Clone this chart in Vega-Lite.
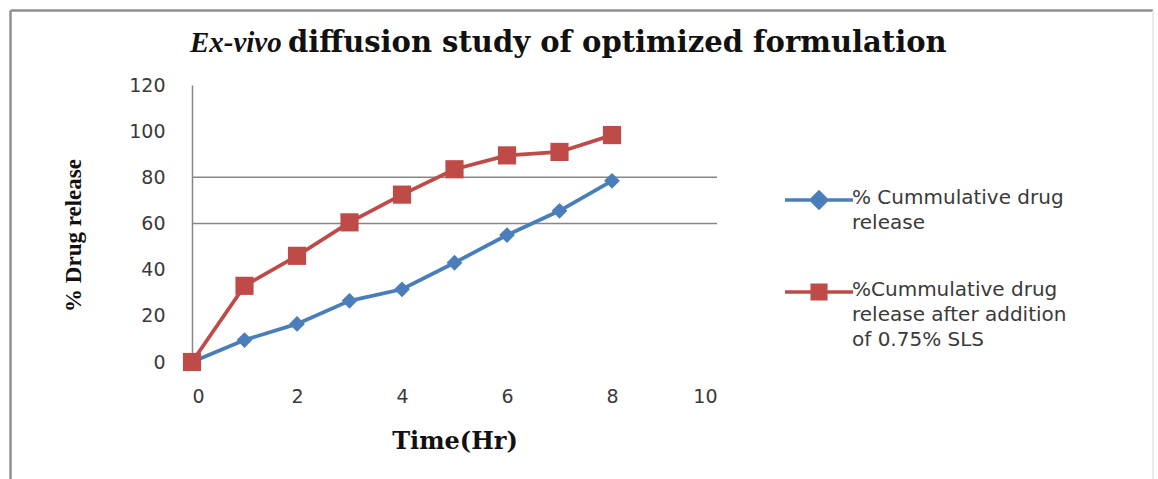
{
  "$schema": "https://vega.github.io/schema/vega-lite/v6.json",
  "width": 525,
  "height": 277,
  "autosize": "none",
  "padding": {"left": 192, "top": 85, "right": 441, "bottom": 117},
  "background": "white",
  "config": {"view": {"stroke": null}},
  "datasets": {
    "release": [
      {"time": 0, "pct": 0, "series": "% Cummulative drug release"},
      {"time": 1, "pct": 9.5, "series": "% Cummulative drug release"},
      {"time": 2, "pct": 16.5, "series": "% Cummulative drug release"},
      {"time": 3, "pct": 26.5, "series": "% Cummulative drug release"},
      {"time": 4, "pct": 31.5, "series": "% Cummulative drug release"},
      {"time": 5, "pct": 43, "series": "% Cummulative drug release"},
      {"time": 6, "pct": 55, "series": "% Cummulative drug release"},
      {"time": 7, "pct": 65.5, "series": "% Cummulative drug release"},
      {"time": 8, "pct": 78.5, "series": "% Cummulative drug release"},
      {"time": 0, "pct": 0, "series": "%Cummulative drug release after addition of 0.75% SLS"},
      {"time": 1, "pct": 33, "series": "%Cummulative drug release after addition of 0.75% SLS"},
      {"time": 2, "pct": 46, "series": "%Cummulative drug release after addition of 0.75% SLS"},
      {"time": 3, "pct": 60.5, "series": "%Cummulative drug release after addition of 0.75% SLS"},
      {"time": 4, "pct": 72.5, "series": "%Cummulative drug release after addition of 0.75% SLS"},
      {"time": 5, "pct": 83.5, "series": "%Cummulative drug release after addition of 0.75% SLS"},
      {"time": 6, "pct": 89.5, "series": "%Cummulative drug release after addition of 0.75% SLS"},
      {"time": 7, "pct": 91, "series": "%Cummulative drug release after addition of 0.75% SLS"},
      {"time": 8, "pct": 98.3, "series": "%Cummulative drug release after addition of 0.75% SLS"}
    ],
    "gridlines": [{"g": 60}, {"g": 80}],
    "single": [{}]
  },
  "layer": [
    {
      "data": {"name": "gridlines"},
      "mark": {"type": "rule", "color": "#878787", "strokeWidth": 1.5},
      "encoding": {
        "y": {"field": "g", "type": "quantitative", "scale": {"domain": [0, 120], "nice": false}},
        "x": {"datum": 0, "type": "quantitative", "scale": {"domain": [0, 10], "nice": false}},
        "x2": {"datum": 10}
      }
    },
    {
      "data": {"name": "release"},
      "mark": {"type": "line", "strokeWidth": 3.75},
      "encoding": {
        "x": {
          "field": "time", "type": "quantitative",
          "scale": {"domain": [0, 10], "nice": false},
          "axis": {
            "values": [0, 2, 4, 6, 8, 10], "grid": false, "domain": false, "ticks": false,
            "labelFont": "DejaVu Sans", "labelFontSize": 19, "labelColor": "#3a3a3a", "labelPadding": 25,
            "title": "Time(Hr)", "titleFont": "DejaVu Serif", "titleFontWeight": "bold", "titleFontSize": 24,
            "titleColor": "#111111", "titleBaseline": "alphabetic", "titleY": 86
          }
        },
        "y": {
          "field": "pct", "type": "quantitative",
          "scale": {"domain": [0, 120], "nice": false},
          "axis": {
            "values": [0, 20, 40, 60, 80, 100, 120], "grid": false, "ticks": false,
            "domainColor": "#868686", "domainWidth": 1.5,
            "labelFont": "DejaVu Sans", "labelFontSize": 19, "labelColor": "#3a3a3a", "labelPadding": 27,
            "title": "% Drug release", "titleFont": "Liberation Serif", "titleFontWeight": "bold", "titleFontSize": 23,
            "titleColor": "#111111", "titleAngle": -90, "titleBaseline": "alphabetic", "titleAlign": "center",
            "titleX": -112, "titleY": 150
          }
        },
        "color": {
          "field": "series", "type": "nominal",
          "scale": {
            "domain": ["% Cummulative drug release", "%Cummulative drug release after addition of 0.75% SLS"],
            "range": ["#4a7ebb", "#be4b48"]
          },
          "legend": {
            "title": null, "orient": "none", "legendX": 591, "legendY": 79, "padding": 0,
            "symbolSize": 4624, "labelOffset": -3, "labelLimit": 400, "rowPadding": 23,
            "labelFont": "DejaVu Sans", "labelFontSize": 20, "labelColor": "#3a3a3a", "labelBaseline": "top",
            "labelExpr": "datum.label == '% Cummulative drug release' ? ['% Cummulative drug', 'release'] : ['%Cummulative drug', 'release after addition', 'of 0.75% SLS']",
            "encode": {
              "symbols": {
                "update": {
                  "shape": {"signal": "datum.value == '% Cummulative drug release' ? 'M-1,0H1M0,-0.23L0.23,0L0,0.23L-0.23,0Z' : 'M-1,0H1M-0.2,-0.2H0.2V0.2H-0.2Z'"},
                  "fill": {"signal": "datum.value == '% Cummulative drug release' ? '#4a7ebb' : '#be4b48'"},
                  "stroke": {"signal": "datum.value == '% Cummulative drug release' ? '#4a7ebb' : '#be4b48'"},
                  "strokeWidth": {"value": 3.5}
                }
              },
              "labels": {"update": {"lineHeight": {"value": 25}, "dy": {"value": -12}}}
            }
          }
        }
      }
    },
    {
      "data": {"name": "release"},
      "transform": [{"filter": "datum.series == '% Cummulative drug release'"}],
      "mark": {"type": "point", "shape": "diamond", "filled": true, "opacity": 1, "size": 250, "color": "#4a7ebb"},
      "encoding": {
        "x": {"field": "time", "type": "quantitative"},
        "y": {"field": "pct", "type": "quantitative"}
      }
    },
    {
      "data": {"name": "release"},
      "transform": [{"filter": "datum.series != '% Cummulative drug release'"}],
      "mark": {"type": "point", "shape": "square", "filled": true, "opacity": 1, "size": 330, "color": "#be4b48"},
      "encoding": {
        "x": {"field": "time", "type": "quantitative"},
        "y": {"field": "pct", "type": "quantitative"}
      }
    },
    {
      "data": {"name": "single"},
      "mark": {"type": "text", "text": "Ex-vivo", "font": "Liberation Serif", "fontSize": 29, "fontWeight": "bold", "fontStyle": "italic", "align": "left", "baseline": "alphabetic", "color": "#111111"},
      "encoding": {"x": {"datum": -0.04}, "y": {"datum": 134.3}}
    },
    {
      "data": {"name": "single"},
      "mark": {"type": "text", "text": "diffusion study of optimized formulation", "font": "DejaVu Serif", "fontSize": 29, "fontWeight": "bold", "align": "left", "baseline": "alphabetic", "color": "#111111"},
      "encoding": {"x": {"datum": 1.83}, "y": {"datum": 134.3}}
    },
    {
      "data": {"name": "single"},
      "mark": {"type": "rule", "color": "#8f8f8f", "strokeWidth": 2.5},
      "encoding": {"x": {"datum": -3.457}, "x2": {"datum": 18.305}, "y": {"datum": 152.28}}
    },
    {
      "data": {"name": "single"},
      "mark": {"type": "rule", "color": "#8f8f8f", "strokeWidth": 2.5},
      "encoding": {"x": {"datum": -3.457}, "y": {"datum": 152.28}, "y2": {"datum": -56}}
    },
    {
      "data": {"name": "single"},
      "mark": {"type": "rule", "color": "#e4e4e4", "strokeWidth": 1.5},
      "encoding": {"x": {"datum": 18.305}, "y": {"datum": 152.28}, "y2": {"datum": -56}}
    }
  ]
}
